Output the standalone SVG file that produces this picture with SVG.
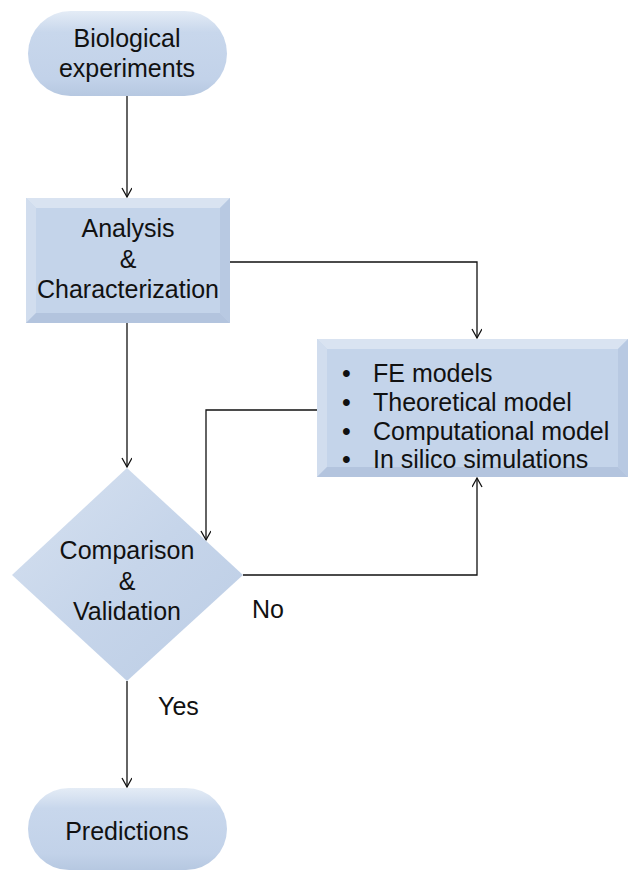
<svg xmlns="http://www.w3.org/2000/svg" width="630" height="872" viewBox="0 0 630 872">
<style>
.t{font-family:"Liberation Sans",Arial,sans-serif;font-size:25px;fill:#111;text-anchor:middle}
.tl{font-family:"Liberation Sans",Arial,sans-serif;font-size:25px;fill:#111}
.c{fill:none;stroke:#111;stroke-width:1.3}
</style>
<defs>
<marker id="ah" markerWidth="12" markerHeight="12" refX="10" refY="5" orient="auto" markerUnits="userSpaceOnUse">
<path d="M1,0 L10,5 L1,10" fill="none" stroke="#111" stroke-width="1.3"/>
</marker>
<linearGradient id="pill" x1="0" y1="0" x2="0" y2="1">
<stop offset="0" stop-color="#e4ecf6"/>
<stop offset="0.25" stop-color="#c8d7ec"/>
<stop offset="0.8" stop-color="#c2d2e9"/>
<stop offset="1" stop-color="#b6c8e1"/>
</linearGradient>
<linearGradient id="dia" x1="0" y1="0" x2="1" y2="1">
<stop offset="0" stop-color="#d6e1f0"/>
<stop offset="0.5" stop-color="#c6d5ea"/>
<stop offset="1" stop-color="#bccde5"/>
</linearGradient>
</defs>
<g id="connectors">
<line class="c" x1="127" y1="96" x2="127" y2="197" marker-end="url(#ah)"/>
<polyline class="c" points="230,262 477,262 477,338" marker-end="url(#ah)"/>
<line class="c" x1="127" y1="323" x2="127" y2="467" marker-end="url(#ah)"/>
<polyline class="c" points="317,410 206,410 206,540" marker-end="url(#ah)"/>
<polyline class="c" points="243,575 477,575 477,478" marker-end="url(#ah)"/>
<line class="c" x1="127" y1="681" x2="127" y2="787" marker-end="url(#ah)"/>
</g>
<g id="n1">
<rect x="28" y="11" width="199" height="85" rx="42.5" fill="url(#pill)"/>
<text class="t" x="127" y="47">Biological</text>
<text class="t" x="127" y="77">experiments</text>
</g>
<g id="n2">
<rect x="26" y="198" width="204" height="125" fill="#c4d4ea"/>
<polygon points="26,198 230,198 220,208 36,208" fill="#d9e3f1"/>
<polygon points="26,198 36,208 36,313 26,323" fill="#d1ddee"/>
<polygon points="230,198 230,323 220,313 220,208" fill="#b8c9e2"/>
<polygon points="26,323 230,323 220,313 36,313" fill="#b3c4de"/>
<text class="t" x="128" y="237">Analysis</text>
<text class="t" x="128" y="268">&amp;</text>
<text class="t" x="128" y="298">Characterization</text>
</g>
<g id="n3">
<rect x="317" y="339" width="311" height="138" fill="#c4d4ea"/>
<polygon points="317,339 628,339 618,349 327,349" fill="#d9e3f1"/>
<polygon points="317,339 327,349 327,467 317,477" fill="#d1ddee"/>
<polygon points="628,339 628,477 618,467 618,349" fill="#b8c9e2"/>
<polygon points="317,477 628,477 618,467 327,467" fill="#b3c4de"/>
<text class="tl" x="342" y="382">•</text>
<text class="tl" x="373" y="382">FE models</text>
<text class="tl" x="342" y="411">•</text>
<text class="tl" x="373" y="411">Theoretical model</text>
<text class="tl" x="342" y="440">•</text>
<text class="tl" x="373" y="440">Computational model</text>
<text class="tl" x="342" y="468">•</text>
<text class="tl" x="373" y="468">In silico simulations</text>
</g>
<g id="n4">
<polygon points="127,468 243,575 127,681 12,575" fill="url(#dia)"/>
<text class="t" x="127" y="559">Comparison</text>
<text class="t" x="127" y="590">&amp;</text>
<text class="t" x="127" y="620">Validation</text>
</g>
<g id="n5">
<rect x="28" y="788" width="199" height="82" rx="41" fill="url(#pill)"/>
<text class="t" x="127" y="840">Predictions</text>
</g>
<text class="tl" x="252" y="618">No</text>
<text class="tl" x="158" y="715">Yes</text>
</svg>
